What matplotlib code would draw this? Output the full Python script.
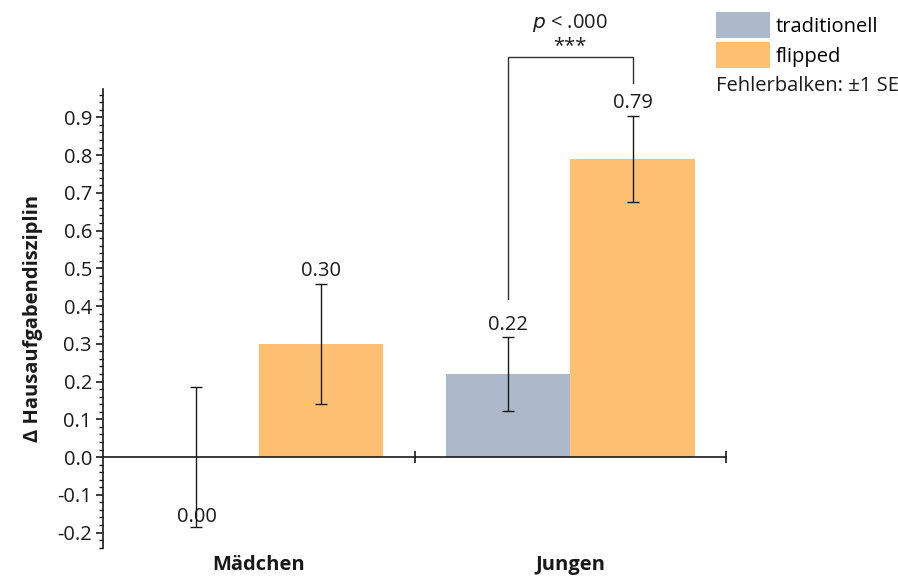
import matplotlib.pyplot as plt
import numpy as np
from matplotlib.patches import Patch
from matplotlib.ticker import MultipleLocator

plt.rcParams['font.family'] = ['Open Sans', 'DejaVu Sans']
plt.rcParams['axes.unicode_minus'] = False

categories = ["Mädchen", "Jungen"]
traditionell = [0.00, 0.22]
flipped = [0.30, 0.79]
se_traditionell = [0.185, 0.097]
se_flipped = [0.159, 0.113]

col_trad = "#abb9cb"
col_flip = "#fdbf71"
ink = "#1a1a1a"
fs = 14.5

fig = plt.figure(figsize=(8.98, 5.77), dpi=100)
ax = fig.add_axes([103 / 898, 1 - 547.7 / 577, (726 - 103) / 898, (547.7 - 89) / 577])

x = np.arange(len(categories))
w = 0.4

ax.bar(x - w / 2, traditionell, w, color=col_trad, zorder=1)
ax.bar(x + w / 2, flipped, w, color=col_flip, zorder=1)
ax.errorbar(x - w / 2, traditionell, yerr=se_traditionell, fmt="none",
            ecolor=ink, elinewidth=1.0, capsize=4, capthick=1.0, zorder=3)
ax.errorbar(x + w / 2, flipped, yerr=se_flipped, fmt="none",
            ecolor=ink, elinewidth=1.0, capsize=4, capthick=1.0, zorder=3)

# value labels
for xi, v, s in zip(x - w / 2, traditionell, se_traditionell):
    if v == 0:
        ax.annotate(f"{v:.2f}", (xi, v - s), xytext=(0, 0), textcoords="offset points",
                    ha="center", va="bottom", fontsize=fs, color=ink)
    else:
        ax.annotate(f"{v:.2f}", (xi, v + s), xytext=(0, 2), textcoords="offset points",
                    ha="center", va="bottom", fontsize=fs, color=ink)
for xi, v, s in zip(x + w / 2, flipped, se_flipped):
    ax.annotate(f"{v:.2f}", (xi, v + s), xytext=(0, 2), textcoords="offset points",
                ha="center", va="bottom", fontsize=fs, color=ink)

ax.set_xlim(-0.5, 1.5)
ax.set_ylim(-0.24, 0.975)

ax.spines[["top", "right"]].set_visible(False)
ax.spines["bottom"].set_position(("data", 0))
ax.spines["bottom"].set_color(ink)
ax.spines["left"].set_color(ink)
ax.spines["bottom"].set_linewidth(1.2)
ax.spines["left"].set_linewidth(1.2)

ax.set_xticks([0.5, 1.5])
ax.set_xticklabels([])
ax.tick_params(axis="x", direction="inout", length=8, width=1.2, color=ink)

yt = np.round(np.arange(-0.2, 0.91, 0.1), 1)
ax.yaxis.set_minor_locator(MultipleLocator(0.02))
ax.set_yticks(yt)
ax.set_yticklabels([f"{t:.1f}" for t in yt])
ax.tick_params(axis="y", which="major", direction="out", length=5, width=1.2,
               labelsize=fs, colors=ink, pad=3)
ax.tick_params(axis="y", which="minor", direction="out", length=3, width=1, color=ink)

for xi, c in zip(x, categories):
    ax.text(xi, -0.038, c, transform=ax.get_xaxis_transform(), ha="center", va="center",
            fontsize=fs, fontweight="bold", color=ink)

ax.set_ylabel("Δ Hausaufgabendisziplin", fontsize=fs, fontweight="bold", color=ink, labelpad=10)

# significance bracket (Jungen)
bx = [x[1] - w / 2, x[1] - w / 2, x[1] + w / 2, x[1] + w / 2]
by = [0.42, 1.06, 1.06, 0.99]
ax.plot(bx, by, color="#333333", lw=1, clip_on=False)
ax.text(x[1], 1.09, "***", ha="center", va="center", fontsize=fs, color=ink, clip_on=False)
ax.text(x[1], 1.15, r"$\it{p}$ < .000", ha="center", va="center", fontsize=fs,
        color=ink, clip_on=False)

handles = [Patch(facecolor=col_trad, edgecolor="none"), Patch(facecolor=col_flip, edgecolor="none")]
fig.legend(handles, ["traditionell", "flipped"], loc="upper left",
           bbox_to_anchor=(714 / 898, 1 - 10 / 577), frameon=False, fontsize=fs,
           handlelength=2.7, handleheight=1.6, handletextpad=0.25, labelspacing=0.22,
           borderaxespad=0, borderpad=0.1)
fig.text(716 / 898, 1 - 86 / 577, "Fehlerbalken: ±1 SE", ha="left", va="center",
         fontsize=fs, color=ink)

fig.savefig("out.png", dpi=100)
